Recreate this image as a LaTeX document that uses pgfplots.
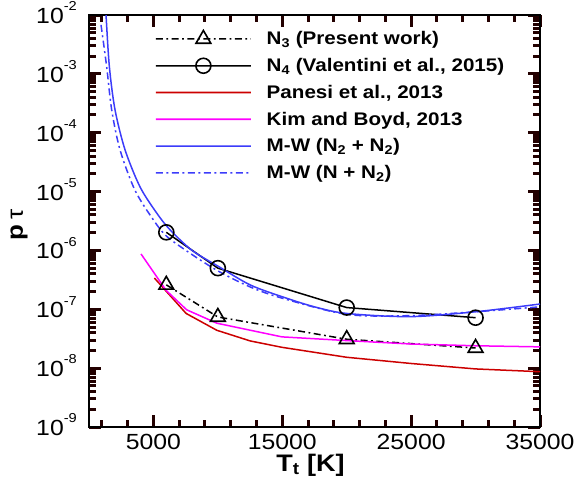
\documentclass[border=0pt]{standalone}
\usepackage{fontspec}
\setmainfont{Liberation Sans}[FakeStretch=1.13]
\usepackage{pgfplots}
\pgfplotsset{compat=1.18}
\definecolor{mwblue}{RGB}{60,60,250}
\definecolor{panesired}{RGB}{204,0,0}
\definecolor{kmag}{RGB}{255,0,255}
\definecolor{tickc}{RGB}{35,0,0}
\pgfplotsset{log base 10 number format code/.code={\pgfmathtruncatemacro{\myexp}{#1}10\raisebox{0.58em}{\fontsize{13}{13}\selectfont\myexp}}}
\begin{document}
\begin{tikzpicture}
\path[use as bounding box] (-89bp,-70bp) rectangle (487bp,427bp);
\begin{axis}[
  at={(0,0)}, anchor=south west, scale only axis,
  width=451bp, height=412bp,
  xmin=0, xmax=35000, ymode=log, ymin=1e-9, ymax=1e-2,
  xtick={5000,15000,25000,35000},
  xticklabels={5000,15000,25000,35000},
  scaled x ticks=false,
  minor xtick={1000,3000,...,33000},
  tick align=inside,
  major tick length=12bp, minor tick length=7bp,
  every tick/.style={tickc, line width=3bp},
  axis line style={line width=2.6bp},
  tick label style={font=\fontsize{22}{22}\selectfont},
  xticklabel style={anchor=base, inner sep=0pt, yshift=-22bp},
  yticklabel style={anchor=base east, inner sep=0pt, xshift=-12bp, yshift=-8.5bp},
  xlabel={\textbf{T\textsubscript{t} [K]}},
  ylabel={\textbf{p}\hspace{5bp}τ},
  every axis x label/.style={at={(axis description cs:0.5,0)}, anchor=base, inner sep=0pt, yshift=-44bp, xshift=-4bp, font=\fontsize{24}{24}\selectfont},
  every axis y label/.style={at={(axis description cs:0,0.5)}, xshift=-70bp, yshift=-4bp, rotate=90, anchor=center, inner sep=0pt, font=\fontsize{23}{23}\selectfont},
  legend style={at={(axis description cs:0.146,0.965)}, anchor=north west, draw=none, fill=none,
    font=\fontsize{18.3}{18.3}\bfseries\selectfont, row sep=8.1bp, inner sep=0pt,
    /tikz/every odd column/.append style={column sep=13bp}},
  legend cell align=left,
  legend image code/.code={\draw[mark repeat=2,mark phase=2] plot coordinates {(0bp,0bp) (47.5bp,0.01bp) (95bp,0bp)};},
]
\addplot[black, line width=1.5bp, dash pattern=on 7bp off 3.5bp on 1.8bp off 3.5bp, mark=triangle, mark size=8.5bp, mark options={solid, line width=1.6bp}]
  coordinates {(6000,2.6e-7) (10000,7.4e-8) (20000,3.1e-8) (30000,2.2e-8)};
\addlegendentry{N\textsubscript{3} (Present work)}
\addplot[black, line width=1.5bp, mark=o, mark size=7.5bp, mark options={solid, line width=1.6bp}]
  coordinates {(6000,2.03e-6) (10000,5.0e-7) (20000,1.07e-7) (30000,7.2e-8)};
\addlegendentry{N\textsubscript{4} (Valentini et al., 2015)}
\addplot[panesired, line width=1.5bp, legend image code/.code={\draw[panesired, line width=1.7bp] (0bp,0bp) -- (95bp,0.01bp);}]
  coordinates {(5074,3.4e-7) (7537,8.5e-8) (9920,4.4e-8) (12510,2.9e-8) (14970,2.26e-8) (20000,1.53e-8) (25000,1.2e-8) (30000,9.7e-9) (35000,8.7e-9)};
\addlegendentry{Panesi et al., 2013}
\addplot[kmag, line width=1.5bp, legend image code/.code={\draw[kmag, line width=1.7bp] (0bp,0bp) -- (95bp,0.01bp);}]
  coordinates {(4040,8.7e-7) (5983,2.1e-7) (7580,9.8e-8) (9920,5.8e-8) (14970,3.4e-8) (20000,2.94e-8) (25000,2.57e-8) (30000,2.4e-8) (35000,2.3e-8)};
\addlegendentry{Kim and Boyd, 2013}
\addplot[mwblue, line width=1.5bp, smooth, legend image code/.code={\draw[mwblue, line width=1.7bp] (0bp,0bp) -- (95bp,0.01bp);}]
  coordinates {(1250,1.6e-2) (1320,1e-2) (1580,1.33e-3) (2020,2.45e-4) (2800,5.1e-5) (3960,1.2e-5) (5260,4.3e-6) (6290,2.24e-6) (8000,1.0e-6) (10076,5.3e-7) (12500,2.6e-7) (14970,1.64e-7) (17500,1.1e-7) (20000,8.5e-8) (24940,7.5e-8) (30050,9.1e-8) (35000,1.23e-7)};
\addlegendentry{M-W (N\textsubscript{2} + N\textsubscript{2})}
\addplot[mwblue, line width=1.5bp, smooth, dash pattern=on 7bp off 3.5bp on 2bp off 3.5bp]
  coordinates {(932,6.8e-3) (1370,1.33e-3) (1760,2.45e-4) (2410,5.1e-5) (3570,1.05e-5) (5000,3.3e-6) (6040,1.73e-6) (8000,8.5e-7) (10076,4.4e-7) (12500,2.4e-7) (14970,1.55e-7) (20000,8.2e-8) (24940,7.8e-8) (30050,9.1e-8) (35000,1.1e-7)};
\addlegendentry{M-W (N + N\textsubscript{2})}
\end{axis}
\end{tikzpicture}
\end{document}
